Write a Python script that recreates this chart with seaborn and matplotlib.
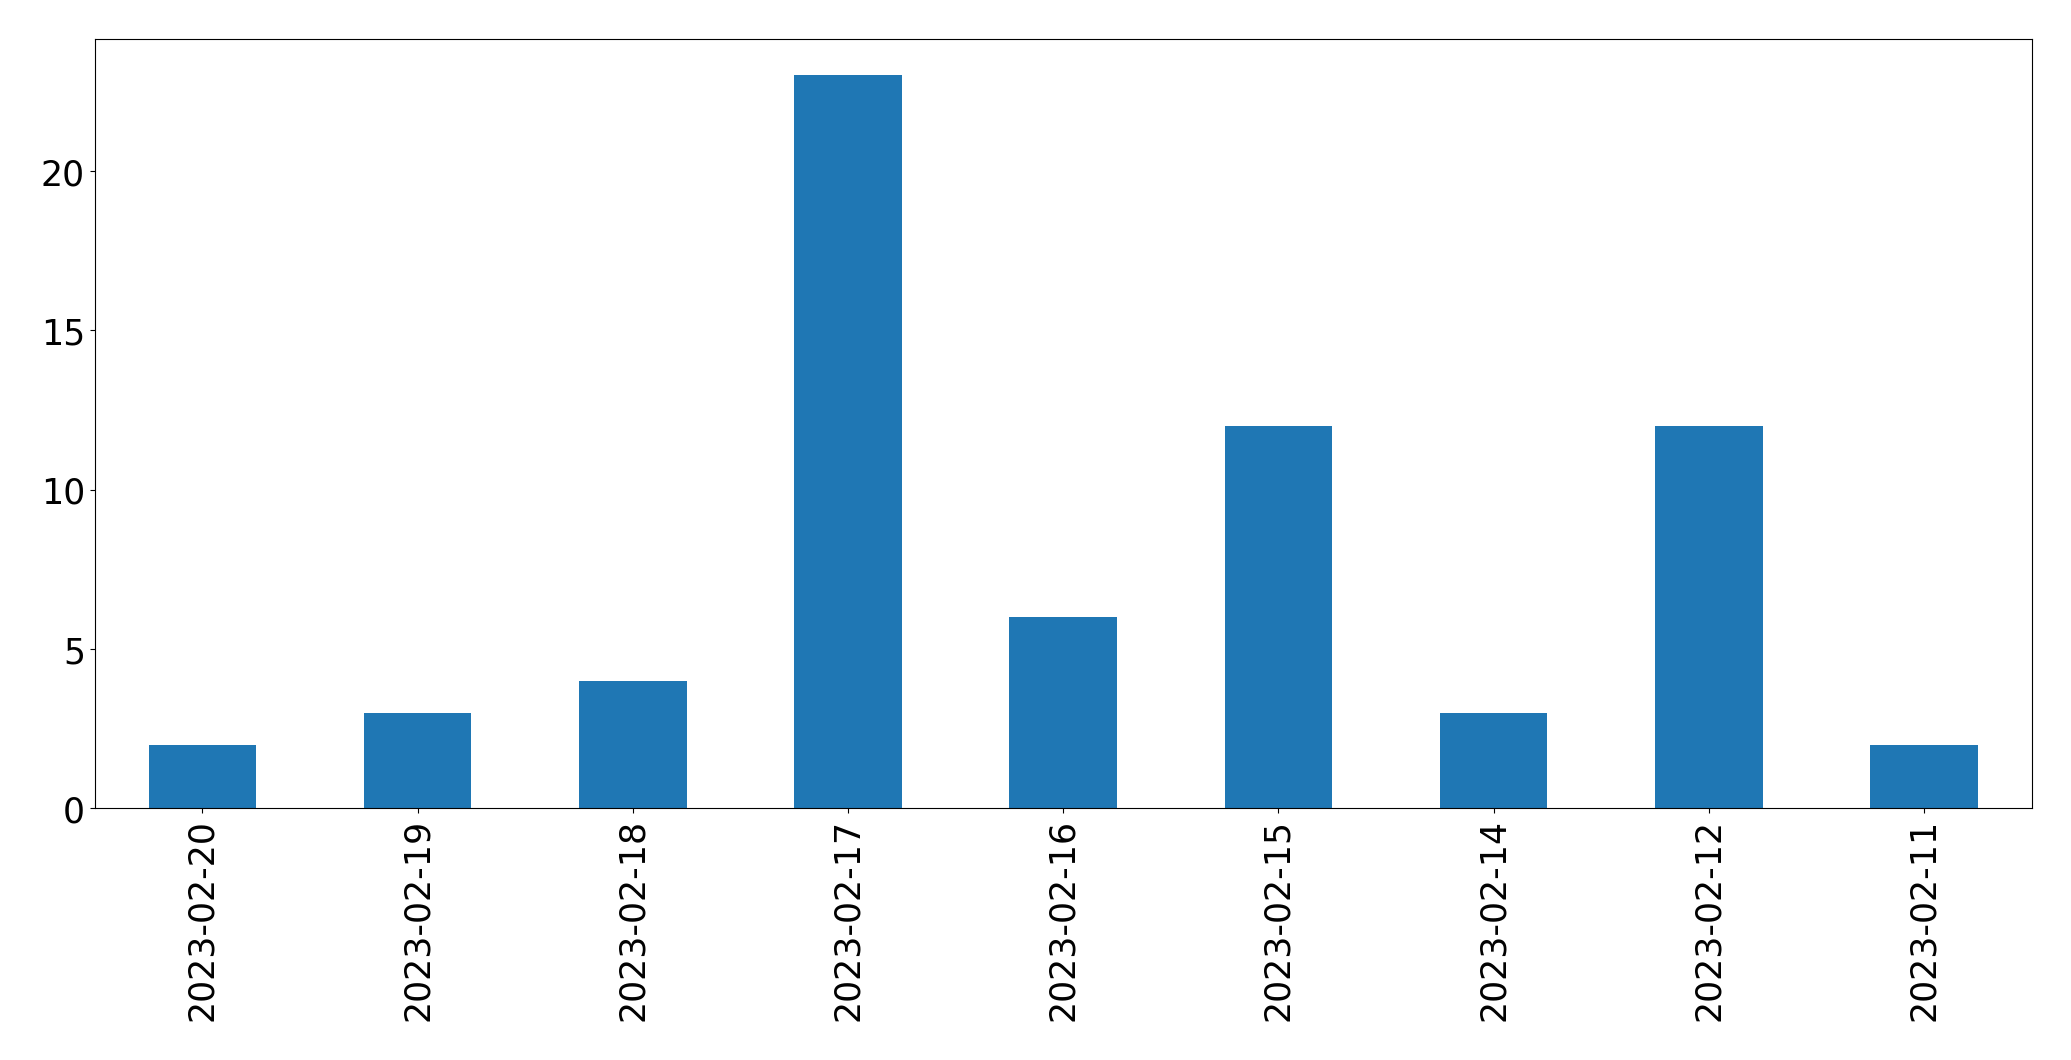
import matplotlib
matplotlib.use("Agg")
import matplotlib.pyplot as plt
import seaborn as sns
import pandas as pd

dates = ["2023-02-20", "2023-02-19", "2023-02-18", "2023-02-17", "2023-02-16",
         "2023-02-15", "2023-02-14", "2023-02-12", "2023-02-11"]
counts = [2, 3, 4, 23, 6, 12, 3, 12, 2]

df = pd.DataFrame({"date": dates, "count": counts})

fig = plt.figure(figsize=(20.71, 10.605), dpi=100)
ax = fig.add_axes([94.7 / 2071, 1 - 809.3 / 1061, (2031.7 - 94.7) / 2071, (809.3 - 39.3) / 1061])
sns.barplot(data=df, x="date", y="count", order=dates, color="#1f77b4",
            saturation=1, width=0.5, ax=ax, errorbar=None)
ax.set_xlim(-0.5, len(dates) - 0.5)
ax.set_ylim(0, max(counts) * 1.05)
ax.set_xlabel("")
ax.set_ylabel("")
ax.tick_params(axis="both", labelsize=25)
ax.tick_params(axis="x", labelrotation=90)
for s in ax.spines.values():
    s.set_visible(True)
    s.set_color("black")
fig.savefig("out.png", dpi=100)
